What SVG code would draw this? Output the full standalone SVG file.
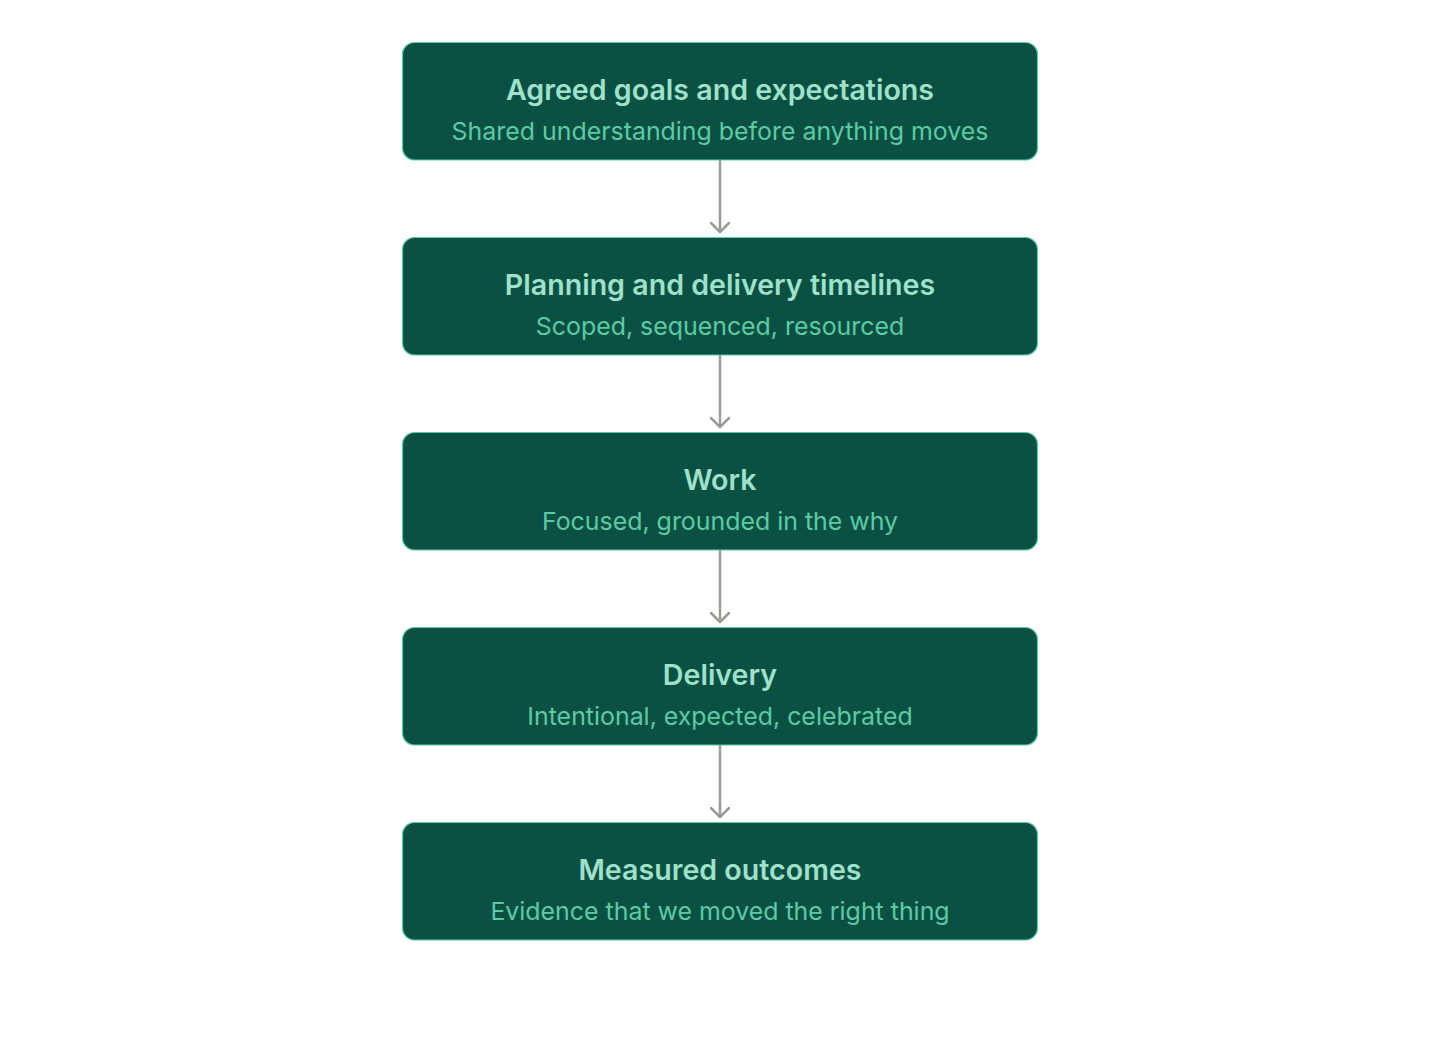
<svg xmlns="http://www.w3.org/2000/svg" width="1440" height="1058" viewBox="0 0 1440 1058">
<style>
.box{fill:#0a5143;stroke:#5dcaa5;stroke-width:1.2}
.t{font-family:Inter,"Noto Sans",sans-serif;font-size:28.6px;font-weight:600;fill:#9fe1cb;text-anchor:middle}
.s{font-family:Inter,"Noto Sans",sans-serif;font-size:24.9px;font-weight:400;fill:#5dcaa5;text-anchor:middle}
.c{stroke:#9c9c94;stroke-width:2.5;fill:none}
.h{stroke:#9c9c94;stroke-width:2.5;fill:none;stroke-linecap:round;stroke-linejoin:round}
</style>
<rect width="1440" height="1058" fill="#ffffff"/>
<g id="connectors">
<line class="c" x1="720" y1="160" x2="720" y2="232"/><polyline class="h" points="711,223 720,232 729,223"/>
<line class="c" x1="720" y1="355" x2="720" y2="427"/><polyline class="h" points="711,418 720,427 729,418"/>
<line class="c" x1="720" y1="550" x2="720" y2="622"/><polyline class="h" points="711,613 720,622 729,613"/>
<line class="c" x1="720" y1="745" x2="720" y2="817"/><polyline class="h" points="711,808 720,817 729,808"/>
</g>
<g id="n1"><rect class="box" x="402.5" y="42.5" width="635" height="117.5" rx="12"/><text class="t" x="720" y="100">Agreed goals and expectations</text><text class="s" x="720" y="140">Shared understanding before anything moves</text></g>
<g id="n2"><rect class="box" x="402.5" y="237.5" width="635" height="117.5" rx="12"/><text class="t" x="720" y="295">Planning and delivery timelines</text><text class="s" x="720" y="335">Scoped, sequenced, resourced</text></g>
<g id="n3"><rect class="box" x="402.5" y="432.5" width="635" height="117.5" rx="12"/><text class="t" x="720" y="490">Work</text><text class="s" x="720" y="530">Focused, grounded in the why</text></g>
<g id="n4"><rect class="box" x="402.5" y="627.5" width="635" height="117.5" rx="12"/><text class="t" x="720" y="685">Delivery</text><text class="s" x="720" y="725">Intentional, expected, celebrated</text></g>
<g id="n5"><rect class="box" x="402.5" y="822.5" width="635" height="117.5" rx="12"/><text class="t" x="720" y="880">Measured outcomes</text><text class="s" x="720" y="920">Evidence that we moved the right thing</text></g>
</svg>
